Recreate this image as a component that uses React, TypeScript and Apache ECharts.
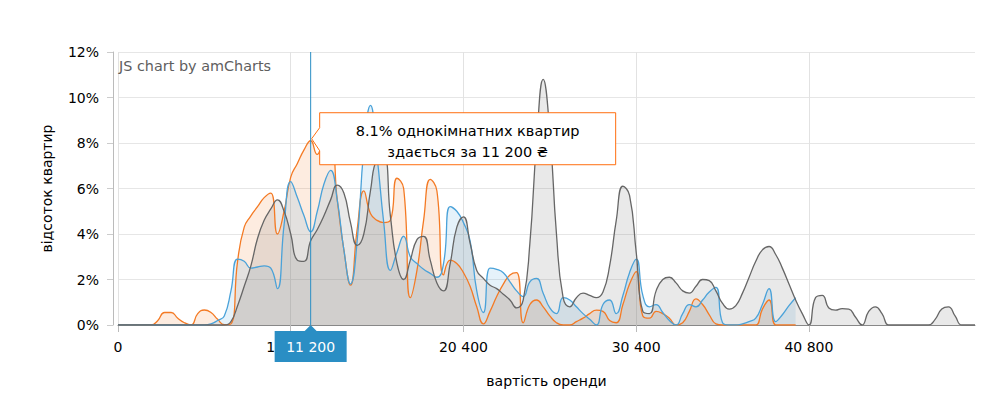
import React, { useEffect, useRef } from "react";
import * as echarts from "echarts";

// rent value categories (₴)
const categories = [
  0, 400, 800, 1200, 1600, 2000, 2400, 2800, 3200, 3600, 4000, 4400, 4800, 5200, 5600, 6000, 6400, 6800, 7200, 7600, 8000, 8400, 8800, 9200, 9600, 10000, 10400,
  10800, 11000, 11200, 11600, 12000, 12400, 12800, 13200, 13600, 14000, 14400, 14800, 15200, 15600, 16000, 16400, 16800, 17200, 17600, 18000, 18400, 18800, 19200, 19600, 20000, 20400,
  20800, 21200, 21600, 22000, 22400, 22800, 23200, 23600, 24000, 24400, 24800,
  25000,
  25200, 25600, 26000, 26400, 26800, 27200, 27600, 28000, 28400, 28800, 29200, 29600, 30000, 30400,
  30800, 31200, 31600, 32000, 32400, 32800, 33200, 33600, 34000, 34400, 34800, 35200, 35600, 36000, 36400, 36800, 37200, 37600, 38000, 38400, 38800, 39200, 39600, 40000, 40400, 40800,
  41200, 41600, 42000, 42400, 42800, 43200, 43600, 44000, 44400, 44800, 45200, 45600, 46000, 46400, 46800, 47200, 47600, 48000, 48400, 48800, 49200, 49600, 50000, 50400, 50800,
];

// % of one-room flats
const oneRoom = [
  0, 0, 0, 0, 0, 0, 0.2, 0.55, 0.55, 0.3, 0.1, 0, 0.5, 0.66, 0.55, 0.25, 0.02, 0.05,
  2.8, 4.3, 4.8, 5.2, 5.6, 5.8, 4.0, 5.0, 6.5, 7.1, 7.7, 8.1,
  7.5, 7.9, 7.9, 5.5, 3.3, 1.75, 4.2, 5.9, 4.9, 4.6, 4.5, 4.6, 6.45, 6.0, 1.2, 2.4, 4.6, 6.4, 5.9, 2.2,
  2.85, 2.7, 2.3, 1.7, 0.8, 0.05, 0.6, 1.25, 1.8, 2.2, 2.3, 0.1, 0.9, 1.1, 0.8, 0.4, 0.1, 0, 0, 0.15,
  0.3, 0.5, 0.65, 0.6, 0.2, 0.1, 0.9, 1.8, 2.35, 0.4, 0.3, 0.6, 0.5, 0.3, 0, 0.1, 0.6, 1.15, 0.9, 0.45,
  0.05, 0, 0, 0, 0, 0, 0, 0.7, 1.1, 0, 0, 0, 0,
];

// % of two-room flats
const twoRoom = [
  0, 0, 0, 0, 0, 0, 0, 0, 0, 0, 0, 0, 0, 0, 0.05, 0.2, 0.4, 1.5,
  2.9, 2.8, 2.5, 2.55, 2.6, 2.5, 1.6, 4.4, 6.3, 5.6, 4.8, 4.1,
  5.0, 6.2, 6.8, 5.5, 3.3, 1.8, 3.7, 7.7, 9.65, 7.4, 4.5, 2.4, 3.2, 3.9, 3.0, 2.7, 2.45, 2.27, 2.1, 2.7,
  5.2, 5.0, 4.5, 3.7, 1.5, 0.55, 2.5, 2.45, 2.3, 1.9, 1.5, 1.25, 1.9, 2.05, 1.4, 0.75, 0.5, 1.2, 1.1, 0.8,
  0.5, 0.25, 0, 0.9, 1.1, 0.5, 1.3, 2.3, 2.9, 1.3, 0.8, 0.9, 0.55, 0.2, 0, 0.5, 0.9, 0.8, 1.1, 1.45,
  1.65, 0.1, 0, 0, 0.05, 0.15, 0.3, 0.9, 1.6, 0.15, 0.45, 0.85, 1.2,
];

// % of three-room flats
const threeRoom = [
  0, 0, 0, 0, 0, 0, 0, 0, 0, 0, 0, 0, 0, 0, 0, 0, 0, 0.15,
  0.85, 1.7, 2.6, 3.8, 4.6, 5.1, 5.5, 5.0, 4.0, 2.85, 2.8, 3.7,
  4.2, 4.8, 5.5, 6.15, 5.8, 4.5, 3.5, 4.0, 5.9, 7.3, 7.4, 4.8, 2.7, 2.0, 2.85, 3.75, 3.9, 2.85, 1.85, 1.5,
  2.7, 4.3, 4.75, 3.6, 2.4, 2.05, 1.75, 1.6, 1.35, 1.1, 0.75, 1.1, 3.6, 8.0, 10.8, 8.5, 4.0, 1.2, 0.8, 1.2,
  1.4, 1.3, 1.2, 1.45, 2.6, 4.6, 6.1, 5.7, 3.2, 0.6, 0.5, 1.5, 2.0, 2.1, 1.85, 1.5, 1.4, 1.7, 2.0, 1.95,
  1.5, 0.95, 0.7, 0.85, 1.4, 2.1, 2.8, 3.3, 3.45, 3.1, 2.5, 1.8, 1.1, 0.5, 0, 1.2, 1.3, 0.75, 0.65, 0.72,
  0.7, 0.35, 0, 0.6, 0.8, 0.5, 0, 0, 0, 0, 0, 0, 0, 0.25, 0.7, 0.8, 0.4, 0, 0, 0,
];

const yTicks = { min: 0, max: 12, step: 2 };
const labelEvery = 26; // categories between labelled ticks
const cursorIndex = 29;

const seriesNames = ["однокімнатні", "двокімнатні", "трикімнатні"];
const colors = ["#f47a24", "#4aa2d9", "#666666"];
const cursorColor = "#2a8ec4";
const balloonColor = "#ff6f10";

const fmt = (v: number | string) => String(v).replace(/\B(?=(\d{3})+(?!\d))/g, " ");
const FONT = "DejaVu Sans, Verdana, sans-serif";

export default function App() {
  const ref = useRef<HTMLDivElement>(null);

  useEffect(() => {
    document.body.style.margin = "0";
    if (!ref.current) return;
    const chart = echarts.init(ref.current, undefined, { renderer: "svg" });

    const mk = (name: string, data: (number | null)[], color: string) => ({
      name,
      type: "line",
      data,
      smooth: 0.5,
      symbol: "none",
      connectNulls: false,
      lineStyle: { color, width: 1.3 },
      itemStyle: { color },
      areaStyle: { color, opacity: 0.14 },
    });

    chart.setOption({
      animation: false,
      textStyle: { fontFamily: FONT },
      grid: { left: 118, right: 27, top: 52, bottom: 77 },
      xAxis: {
        type: "category",
        data: categories.map(String),
        boundaryGap: false,
        name: "вартість оренди",
        nameLocation: "middle",
        nameGap: 49,
        nameTextStyle: { color: "#000", fontSize: 14, fontFamily: FONT },
        axisLine: { lineStyle: { color: "#888", width: 1 } },
        axisTick: { interval: labelEvery - 1, length: 7, lineStyle: { color: "#bbb" } },
        axisLabel: {
          interval: labelEvery - 1,
          margin: 15,
          color: "#000",
          fontSize: 14,
          fontFamily: FONT,
          formatter: (v: string) => fmt(v),
        },
        splitLine: { show: true, interval: labelEvery - 1, lineStyle: { color: "#e2e2e2", width: 1 } },
      },
      yAxis: {
        type: "value",
        min: yTicks.min,
        max: yTicks.max,
        interval: yTicks.step,
        offset: 5,
        name: "відсоток квартир",
        nameLocation: "middle",
        nameGap: 59,
        nameTextStyle: { color: "#000", fontSize: 14, fontFamily: FONT },
        axisLine: { show: true, lineStyle: { color: "#bbb", width: 1 } },
        axisTick: { show: true, length: 6, lineStyle: { color: "#ccc" } },
        axisLabel: { color: "#000", fontSize: 14, margin: 14, fontFamily: FONT, formatter: "{value}%" },
        splitLine: { show: true, lineStyle: { color: "#e6e6e6", width: 1 } },
      },
      series: [
        mk(seriesNames[0], oneRoom, colors[0]),
        mk(seriesNames[1], twoRoom, colors[1]),
        mk(seriesNames[2], threeRoom, colors[2]),
      ],
    });

    const [px, py] = chart.convertToPixel({ gridIndex: 0 }, [cursorIndex, oneRoom[cursorIndex]]) as number[];
    const yTop = (chart.convertToPixel({ gridIndex: 0 }, [0, yTicks.max]) as number[])[1];
    const yBot = (chart.convertToPixel({ gridIndex: 0 }, [0, yTicks.min]) as number[])[1];
    const catLabel = fmt(categories[cursorIndex]);

    chart.setOption({
      graphic: [
        {
          type: "text",
          left: 119,
          top: 59,
          style: { text: "JS chart by amCharts", fill: "#5e5e5e", font: `14.4px ${FONT}` },
          z: 10,
        },
        {
          type: "line",
          shape: { x1: px, y1: yTop, x2: px, y2: yBot },
          style: { stroke: cursorColor, lineWidth: 1 },
          z: 20,
        },
        {
          type: "polygon",
          shape: { points: [[px, yBot], [px - 7, yBot + 7], [px + 7, yBot + 7]] },
          style: { fill: cursorColor },
          z: 20,
        },
        {
          type: "rect",
          shape: { x: px - 36, y: yBot + 6, width: 72, height: 31 },
          style: { fill: cursorColor },
          z: 20,
        },
        {
          type: "text",
          x: px,
          y: yBot + 21.5,
          style: { text: catLabel, fill: "#fff", font: `14px ${FONT}`, align: "center", verticalAlign: "middle" },
          z: 21,
        },
        {
          type: "polygon",
          shape: {
            points: [
              [px + 9, py - 28],
              [px + 305, py - 28],
              [px + 305, py + 24],
              [px + 9, py + 24],
              [px + 9, py + 10],
              [px + 1, py - 2],
              [px + 9, py - 13],
            ],
          },
          style: { fill: "#fff", stroke: balloonColor, lineWidth: 1 },
          z: 30,
        },
        {
          type: "text",
          x: px + 157,
          y: py - 10,
          style: {
            text: `${oneRoom[cursorIndex]}% однокімнатних квартир`,
            fill: "#000",
            font: `14.5px ${FONT}`,
            align: "center",
            verticalAlign: "middle",
          },
          z: 31,
        },
        {
          type: "text",
          x: px + 157,
          y: py + 11,
          style: {
            text: `здається за ${catLabel} ₴`,
            fill: "#000",
            font: `14.5px ${FONT}`,
            align: "center",
            verticalAlign: "middle",
          },
          z: 31,
        },
      ],
    });

    return () => chart.dispose();
  }, []);

  return <div ref={ref} style={{ width: 1002, height: 402 }} />;
}
